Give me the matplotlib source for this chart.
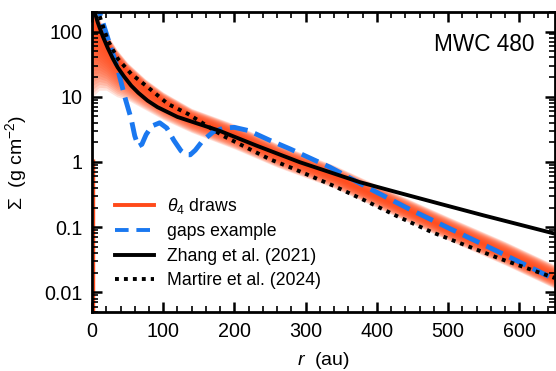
import numpy as np
import matplotlib
matplotlib.use('Agg')
import matplotlib.pyplot as plt
from matplotlib.ticker import FixedLocator, LogLocator, NullFormatter, MultipleLocator

plt.rcParams['font.family'] = ['Liberation Sans', 'DejaVu Sans']
plt.rcParams['mathtext.fontset'] = 'custom'
plt.rcParams['mathtext.rm'] = 'Liberation Sans'
plt.rcParams['mathtext.it'] = 'Liberation Sans:italic'

# surface density profiles, log10(Sigma)
r_zhang = [1, 4, 8, 15, 22, 29, 36, 45, 55, 65, 78, 92, 120, 145, 179, 231, 292, 334, 376,
           430, 488, 550, 650]
log_zhang = [2.45, 2.29, 2.14, 1.93, 1.75, 1.59, 1.45, 1.31, 1.17, 1.06, 0.94, 0.84, 0.69,
             0.60, 0.478, 0.25, -0.005, -0.157, -0.31, -0.47, -0.64, -0.82, -1.10]

r_martire = [1, 12.6, 22.4, 36.4, 55, 78.5, 106.5, 134.6, 184, 250, 280, 310, 340, 385, 430,
             478, 525, 572, 650]
log_martire = [2.6, 2.17, 1.86, 1.58, 1.35, 1.145, 0.89, 0.737, 0.40, 0.04, -0.09, -0.23, -0.37,
               -0.60, -0.84, -1.08, -1.28, -1.48, -1.78]

r_gaps = [4, 14, 25, 35, 47, 55, 60, 65, 70, 76, 84, 95, 105, 115, 125, 132, 138, 145, 155,
          170, 185, 200, 220, 250, 278, 334, 390, 445, 502, 575, 650]
log_gaps = [2.5, 2.18, 1.80, 1.47, 0.96, 0.66, 0.40, 0.24, 0.27, 0.42, 0.55, 0.60, 0.52, 0.33,
            0.17, 0.11, 0.11, 0.18, 0.32, 0.46, 0.52, 0.53, 0.48, 0.33, 0.20, -0.08, -0.41,
            -0.72, -1.02, -1.40, -1.80]

# theta_4 draws: middle of the band and its faint upper / lower edges
r_band = [1, 10, 20, 35, 50, 75, 100, 140, 200, 260, 340, 420, 500, 580, 650]
band_mid = [2.15, 2.0, 1.82, 1.58, 1.38, 1.13, 0.93, 0.68, 0.42, 0.12, -0.22, -0.62, -1.02, -1.40, -1.76]
band_hi = [2.35, 2.2, 1.98, 1.72, 1.52, 1.27, 1.07, 0.82, 0.58, 0.28, -0.05, -0.45, -0.84, -1.22, -1.58]
band_lo = [1.0, 1.1, 1.1, 1.0, 0.95, 0.8, 0.65, 0.45, 0.2, -0.08, -0.40, -0.80, -1.20, -1.58, -1.94]

red = '#ff4a1a'
blue = '#1a78f0'

fig = plt.figure(figsize=(5.56, 3.71), dpi=100)
ax = fig.add_axes([0.1655, 0.159, 0.8325, 0.809])

# draws band, built up from layered fills
mid = np.array(band_mid)
hi = np.array(band_hi)
lo = np.array(band_lo)
n = 20
for k in range(n):
    f = (k + 1) / n
    ax.fill_between(r_band, 10 ** (mid + f * (hi - mid)), 10 ** (mid - f * (mid - lo)),
                    color=red, alpha=0.15, lw=0, zorder=1)
ax.vlines(2.5, 0.005, 1.1, color=red, lw=1.0, zorder=1)

ax.plot(r_gaps, 10 ** np.array(log_gaps), color=blue, lw=3.5, ls='--', zorder=2)
ax.plot(r_zhang, 10 ** np.array(log_zhang), color='black', lw=2.8, zorder=3)
ax.plot(r_martire, 10 ** np.array(log_martire), color='black', lw=2.8, ls=(0, (1, 1.3)), zorder=4)

# legend handles
ax.plot([], [], color=red, lw=2.8, label=r'$\theta_4$ draws')
ax.plot([], [], color=blue, lw=2.8, ls=(0, (3.5, 2)), label='gaps example')
ax.plot([], [], color='black', lw=2.8, label='Zhang et al. (2021)')
ax.plot([], [], color='black', lw=2.8, ls=(0, (1, 1.3)), label='Martire et al. (2024)')

ax.set_yscale('log')
ax.set_xlim(0, 650)
ax.set_ylim(0.005, 200)
ax.xaxis.set_major_locator(MultipleLocator(100))
ax.xaxis.set_minor_locator(MultipleLocator(20))
ax.yaxis.set_major_locator(FixedLocator([0.01, 0.1, 1, 10, 100]))
ax.yaxis.set_minor_locator(LogLocator(base=10, subs=np.arange(2, 10)))
ax.yaxis.set_minor_formatter(NullFormatter())
ax.set_yticklabels(['0.01', '0.1', '1', '10', '100'])

ax.tick_params(which='both', direction='in', top=True, right=True, labelsize=14.2)
ax.tick_params(which='major', length=7, width=1.8, pad=7)
ax.tick_params(which='minor', length=4, width=1.2)
for s in ax.spines.values():
    s.set_linewidth(2.0)

ax.set_xlabel(r'$r$  (au)', fontsize=14, labelpad=7)
ax.set_ylabel(r'$\Sigma$  (g cm$^{-2}$)', fontsize=14, labelpad=11)
ax.text(0.955, 0.89, 'MWC 480', transform=ax.transAxes, ha='right', va='center', fontsize=16.3)

ax.legend(loc='upper left', bbox_to_anchor=(0.05, 0.387), frameon=False, fontsize=12.7,
          handlelength=2.2, handletextpad=0.72, labelspacing=0.42, borderpad=0, borderaxespad=0)

fig.savefig('out.png', dpi=100)
